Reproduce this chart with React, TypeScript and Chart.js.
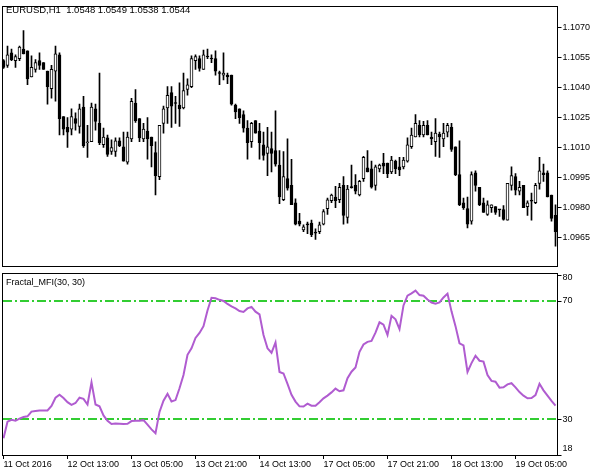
import React, { useEffect, useRef } from "react";
import { Chart, registerables } from "chart.js";

Chart.register(...registerables);

const FONT = "'Liberation Sans', Arial, sans-serif";

// ---- data ----
const tradingDays = ["11 Oct", "12 Oct", "13 Oct", "14 Oct", "17 Oct", "18 Oct", "19 Oct"];
const firstHour = 21;
const lastHour = 15;

const xTickIndex = [0, 16, 32, 48, 64, 80, 96, 112, 128];
const xTickText = [
  "11 Oct 2016", "12 Oct 13:00", "13 Oct 05:00", "13 Oct 21:00", "14 Oct 13:00",
  "17 Oct 05:00", "17 Oct 21:00", "18 Oct 13:00", "19 Oct 05:00",
];

const priceTicks = [1.0965, 1.098, 1.0995, 1.101, 1.1025, 1.104, 1.1055, 1.107];
const priceMin = 1.095069;
const priceMax = 1.108067;

const mfiTicks = [18, 30, 70, 80];
const mfiLevels = [30, 70];
const mfiMin = 17.93;
const mfiMax = 79.47;

const headerText = "EURUSD,H1  1.0548 1.0549 1.0538 1.0544";
const indicatorName = "Fractal_MFI(30, 30)";

const open = [
  1.10535, 1.10511, 1.10574, 1.10535, 1.10545, 1.10593, 1.10584, 1.10453, 1.10491, 1.10535,
  1.10525, 1.10482, 1.10394, 1.10482, 1.10564, 1.10254, 1.10200, 1.10191, 1.10244, 1.10205,
  1.10302, 1.10123, 1.10128, 1.10293, 1.10220, 1.10113, 1.10147, 1.10079, 1.10079, 1.10133,
  1.10103, 1.10026, 1.10142, 1.10322, 1.10244, 1.10142, 1.10181, 1.10152, 1.10074, 1.09953,
  1.10220, 1.10297, 1.10375, 1.10322, 1.10312, 1.10297, 1.10390, 1.10404, 1.10535, 1.10545,
  1.10491, 1.10555, 1.10545, 1.10545, 1.10472, 1.10462, 1.10462, 1.10462, 1.10312, 1.10293,
  1.10264, 1.10196, 1.10128, 1.10234, 1.10181, 1.10113, 1.10070, 1.10094, 1.10084, 1.10011,
  1.09837, 1.09943, 1.09909, 1.09822, 1.09730, 1.09686, 1.09715, 1.09720, 1.09672, 1.09677,
  1.09715, 1.09793, 1.09832, 1.09851, 1.09837, 1.09909, 1.09749, 1.09900, 1.09909, 1.09861,
  1.09943, 1.09997, 1.09992, 1.09909, 1.09992, 1.10021, 1.10021, 1.09977, 1.10031, 1.10002,
  1.10002, 1.10031, 1.10103, 1.10152, 1.10210, 1.10162, 1.10210, 1.10152, 1.10128, 1.10167,
  1.10142, 1.10176, 1.10200, 1.10103, 1.09963, 1.09822, 1.09793, 1.09730, 1.09972, 1.09900,
  1.09822, 1.09764, 1.09798, 1.09803, 1.09788, 1.09788, 1.09735, 1.09909, 1.09953, 1.09880,
  1.09909, 1.09803, 1.09832, 1.09822, 1.09919, 1.09972, 1.09972, 1.09861, 1.09759,
];

const high = [
  1.10540, 1.10608, 1.10593, 1.10564, 1.10608, 1.10685, 1.10584, 1.10559, 1.10540, 1.10574,
  1.10525, 1.10482, 1.10511, 1.10608, 1.10574, 1.10254, 1.10249, 1.10293, 1.10273, 1.10317,
  1.10356, 1.10210, 1.10322, 1.10317, 1.10472, 1.10196, 1.10162, 1.10137, 1.10147, 1.10147,
  1.10176, 1.10176, 1.10346, 1.10390, 1.10244, 1.10220, 1.10249, 1.10152, 1.10128, 1.10210,
  1.10307, 1.10404, 1.10404, 1.10356, 1.10424, 1.10472, 1.10443, 1.10559, 1.10564, 1.10559,
  1.10588, 1.10593, 1.10564, 1.10584, 1.10482, 1.10574, 1.10472, 1.10462, 1.10317, 1.10293,
  1.10283, 1.10234, 1.10225, 1.10234, 1.10220, 1.10176, 1.10200, 1.10176, 1.10283, 1.10084,
  1.10079, 1.10142, 1.10040, 1.09842, 1.09769, 1.09711, 1.09725, 1.09735, 1.09691, 1.09725,
  1.09788, 1.09846, 1.09866, 1.09905, 1.09919, 1.09953, 1.09909, 1.10011, 1.09963, 1.09934,
  1.10055, 1.10084, 1.10031, 1.10011, 1.10016, 1.10070, 1.10021, 1.10055, 1.10036, 1.10050,
  1.10050, 1.10147, 1.10196, 1.10264, 1.10234, 1.10230, 1.10234, 1.10176, 1.10244, 1.10176,
  1.10220, 1.10220, 1.10220, 1.10103, 1.10133, 1.09846, 1.09851, 1.09977, 1.09982, 1.09900,
  1.09846, 1.09832, 1.09812, 1.09803, 1.09788, 1.09808, 1.09919, 1.10002, 1.09968, 1.09929,
  1.09909, 1.09832, 1.09870, 1.09919, 1.10050, 1.10016, 1.09982, 1.09861, 1.09812,
];

const low = [
  1.10496, 1.10501, 1.10535, 1.10501, 1.10535, 1.10569, 1.10414, 1.10453, 1.10477, 1.10491,
  1.10491, 1.10317, 1.10346, 1.10331, 1.10162, 1.10162, 1.10099, 1.10162, 1.10186, 1.10171,
  1.10099, 1.10050, 1.10128, 1.10186, 1.10113, 1.10099, 1.10055, 1.10065, 1.10055, 1.10103,
  1.10031, 1.10016, 1.10128, 1.10225, 1.10128, 1.10128, 1.10040, 1.10002, 1.09861, 1.09938,
  1.10171, 1.10220, 1.10200, 1.10220, 1.10205, 1.10293, 1.10361, 1.10399, 1.10491, 1.10482,
  1.10491, 1.10545, 1.10525, 1.10462, 1.10414, 1.10438, 1.10419, 1.10312, 1.10244, 1.10220,
  1.10176, 1.10040, 1.10099, 1.10171, 1.10040, 1.10036, 1.09958, 1.09977, 1.10006, 1.09817,
  1.09832, 1.09885, 1.09812, 1.09711, 1.09706, 1.09677, 1.09667, 1.09652, 1.09638, 1.09667,
  1.09711, 1.09764, 1.09822, 1.09798, 1.09822, 1.09715, 1.09720, 1.09895, 1.09866, 1.09856,
  1.09929, 1.09977, 1.09895, 1.09885, 1.09977, 1.09968, 1.09948, 1.09968, 1.09968, 1.09958,
  1.09992, 1.10026, 1.10094, 1.10152, 1.10152, 1.10152, 1.10162, 1.10113, 1.10055, 1.10050,
  1.10103, 1.10152, 1.10079, 1.09958, 1.09808, 1.09788, 1.09696, 1.09715, 1.09880, 1.09808,
  1.09774, 1.09759, 1.09774, 1.09764, 1.09754, 1.09735, 1.09735, 1.09885, 1.09861, 1.09861,
  1.09798, 1.09759, 1.09735, 1.09817, 1.09890, 1.09929, 1.09851, 1.09730, 1.09604,
];

const close = [
  1.10501, 1.10564, 1.10540, 1.10555, 1.10603, 1.10569, 1.10443, 1.10501, 1.10525, 1.10511,
  1.10491, 1.10404, 1.10491, 1.10569, 1.10244, 1.10191, 1.10176, 1.10254, 1.10220, 1.10293,
  1.10108, 1.10125, 1.10302, 1.10230, 1.10123, 1.10152, 1.10065, 1.10099, 1.10133, 1.10108,
  1.10031, 1.10152, 1.10331, 1.10234, 1.10147, 1.10191, 1.10142, 1.10108, 1.09958, 1.10210,
  1.10293, 1.10361, 1.10307, 1.10320, 1.10293, 1.10385, 1.10414, 1.10545, 1.10555, 1.10496,
  1.10564, 1.10553, 1.10543, 1.10482, 1.10470, 1.10472, 1.10453, 1.10317, 1.10278, 1.10249,
  1.10196, 1.10123, 1.10220, 1.10171, 1.10123, 1.10060, 1.10103, 1.10070, 1.10016, 1.09851,
  1.09953, 1.09895, 1.09812, 1.09715, 1.09715, 1.09701, 1.09711, 1.09662, 1.09670, 1.09711,
  1.09778, 1.09837, 1.09861, 1.09832, 1.09900, 1.09759, 1.09890, 1.09898, 1.09880, 1.09929,
  1.10050, 1.09977, 1.09900, 1.10002, 1.10011, 1.10006, 1.09968, 1.10036, 1.09992, 1.09987,
  1.10036, 1.10113, 1.10162, 1.10220, 1.10162, 1.10210, 1.10162, 1.10142, 1.10171, 1.10152,
  1.10171, 1.10210, 1.10089, 1.09963, 1.09812, 1.09798, 1.09715, 1.09963, 1.09909, 1.09812,
  1.09774, 1.09812, 1.09812, 1.09774, 1.09786, 1.09739, 1.09919, 1.09958, 1.09885, 1.09900,
  1.09798, 1.09822, 1.09830, 1.09909, 1.09982, 1.09963, 1.09851, 1.09744, 1.09677,
];

const mfi = [
  23.6, 29.2, 29.8, 29.5, 30.2, 30.8, 31.0, 32.6, 32.8, 33.0,
  33.0, 33.0, 34.5, 37.3, 38.3, 37.2, 35.8, 34.9, 35.5, 37.3,
  36.9, 35.0, 42.5, 35.0, 34.4, 31.3, 29.5, 28.4, 28.6, 28.5,
  28.4, 28.5, 29.4, 29.5, 29.5, 29.7, 28.2, 26.6, 25.3, 32.5,
  36.3, 38.6, 36.0, 36.5, 40.5, 45.0, 51.8, 54.0, 57.5, 59.2,
  61.5, 66.8, 71.1, 70.9, 70.4, 70.0, 69.0, 68.2, 67.5, 66.6,
  66.3, 67.5, 68.0, 66.4, 65.5, 58.5, 54.0, 52.5, 56.0, 46.0,
  45.5, 42.0, 38.3, 36.0, 34.4, 34.3, 35.3, 34.6, 34.6, 35.8,
  37.1, 38.0, 39.1, 40.4, 39.5, 39.8, 43.9, 46.1, 47.5, 52.8,
  55.3, 56.2, 56.5, 59.3, 62.8, 62.0, 58.5, 65.0, 63.8, 60.5,
  68.5, 71.8, 72.6, 73.5, 72.0, 71.8, 70.5, 69.5, 69.1, 69.5,
  71.2, 72.5, 66.5, 61.5, 55.7, 55.0, 46.0, 49.0, 51.5, 49.8,
  49.5, 45.0, 43.0, 42.7, 40.7, 40.8, 41.8, 42.2, 40.8, 39.2,
  38.0, 37.1, 37.2, 38.2, 42.0, 39.8, 38.0, 36.2, 34.6,
];

// hourly category labels (one per bar)
const categories: string[] = [];
tradingDays.forEach((d, di) => {
  const h0 = di === 0 ? firstHour : 0;
  const h1 = di === tradingDays.length - 1 ? lastHour : 23;
  for (let h = h0; h <= h1; h++) categories.push(d + " " + String(h).padStart(2, "0") + ":00");
});

// ---- layout constants ----
const W = 604;
const TOP_H = 272;
const BOT_TOP = 272;
const BOT_H = 203;
const AREA_LEFT = 1.5;
const AXIS_W = 46.5;
const LEVEL_COLOR = "rgb(50, 205, 50)";
const MFI_COLOR = "#B05CD0";

const framePlugin = {
  id: "paneFrame",
  afterDraw(chart: any) {
    const { ctx, chartArea: a } = chart;
    ctx.save();
    ctx.strokeStyle = "#000";
    ctx.lineWidth = 1;
    const top = Math.round(a.top) + 0.5;
    const bottom = Math.round(a.bottom) + 0.5;
    ctx.strokeRect(2.5, top, 557 - 2, bottom - top);
    ctx.restore();
  },
};

const headerPlugin = {
  id: "header",
  afterDraw(chart: any) {
    const { ctx } = chart;
    ctx.save();
    ctx.fillStyle = "#000";
    ctx.font = "9.5px " + FONT;
    ctx.textBaseline = "middle";
    ctx.textAlign = "left";
    ctx.fillText(headerText, 6, 10);
    ctx.restore();
  },
};

const indicatorPlugin = {
  id: "indicatorExtras",
  beforeDatasetsDraw(chart: any) {
    const { ctx, chartArea: a, scales } = chart;
    const ys = scales.y;
    ctx.save();
    ctx.strokeStyle = LEVEL_COLOR;
    ctx.lineWidth = 2;
    ctx.setLineDash([9, 3, 2, 3]);
    mfiLevels.forEach((v) => {
      const y = Math.round(ys.getPixelForValue(v));
      ctx.beginPath();
      ctx.moveTo(a.left + 1.5, y);
      ctx.lineTo(a.right, y);
      ctx.stroke();
    });
    ctx.restore();
  },
  afterDraw(chart: any) {
    const { ctx, chartArea: a, scales } = chart;
    const ys = scales.y;
    ctx.save();
    ctx.fillStyle = "#000";
    ctx.strokeStyle = "#000";
    ctx.lineWidth = 1;
    ctx.font = "9px " + FONT;
    ctx.textBaseline = "middle";
    ctx.textAlign = "left";
    ctx.fillText(indicatorName, 6, a.top + 10);
    mfiTicks.forEach((v) => {
      const p = ys.getPixelForValue(v);
      const ty = Math.round(Math.min(Math.max(p, a.top + 2), a.bottom)) + 0.5;
      ctx.beginPath();
      ctx.moveTo(a.right, ty);
      ctx.lineTo(a.right + 4, ty);
      ctx.stroke();
      const ly = Math.min(Math.max(p, a.top + 5), a.bottom - 6);
      ctx.fillText(String(v), a.right + 5, ly);
    });
    ctx.restore();
  },
};

export default function App() {
  const topRef = useRef<HTMLCanvasElement | null>(null);
  const botRef = useRef<HTMLCanvasElement | null>(null);

  useEffect(() => {
    const bodyColors = open.map((o, i) => (close[i] >= o ? "#ffffff" : "#000000"));

    const top = new Chart(topRef.current as HTMLCanvasElement, {
      type: "bar",
      data: {
        labels: categories,
        datasets: [
          {
            label: "wick",
            data: low.map((l, i) => [l, high[i]]) as any,
            backgroundColor: "#000000",
            borderWidth: 0,
            barThickness: 1,
            grouped: false,
            order: 1,
          } as any,
          {
            label: "body",
            data: open.map((o, i) => [o, close[i]]) as any,
            backgroundColor: bodyColors,
            borderColor: "#000000",
            borderWidth: 1,
            borderSkipped: false,
            barThickness: 3,
            minBarLength: 1,
            grouped: false,
            order: 0,
          } as any,
        ],
      },
      options: {
        animation: false,
        responsive: false,
        maintainAspectRatio: false,
        devicePixelRatio: 1,
        layout: { padding: { left: AREA_LEFT, top: 2, right: 0, bottom: 2 }, autoPadding: false } as any,
        plugins: { legend: { display: false }, tooltip: { enabled: false } },
        scales: {
          x: { type: "category", display: false, offset: true },
          y: {
            position: "right",
            min: priceMin,
            max: priceMax,
            afterBuildTicks: (s: any) => {
              s.ticks = priceTicks.map((v) => ({ value: v }));
            },
            afterFit: (s: any) => {
              s.width = AXIS_W;
            },
            ticks: {
              callback: (v: any) => Number(v).toFixed(4),
              font: { family: FONT, size: 9 },
              color: "#000",
              padding: 1,
            },
            grid: {
              drawOnChartArea: false,
              drawTicks: true,
              tickLength: 4,
              tickColor: "#000",
              color: "#000",
            },
            border: { display: false },
          } as any,
        },
      },
      plugins: [framePlugin, headerPlugin],
    });

    const bot = new Chart(botRef.current as HTMLCanvasElement, {
      type: "line",
      data: {
        labels: categories,
        datasets: [
          {
            label: indicatorName,
            data: mfi,
            borderColor: MFI_COLOR,
            borderWidth: 2,
            pointRadius: 0,
            tension: 0,
            fill: false,
          },
        ],
      },
      options: {
        animation: false,
        responsive: false,
        maintainAspectRatio: false,
        devicePixelRatio: 1,
        layout: { padding: { left: AREA_LEFT, top: 1, right: AXIS_W, bottom: 0 }, autoPadding: false } as any,
        plugins: { legend: { display: false }, tooltip: { enabled: false } },
        scales: {
          x: {
            type: "category",
            offset: true,
            afterBuildTicks: (s: any) => {
              s.ticks = xTickIndex.map((v) => ({ value: v }));
            },
            afterFit: (s: any) => {
              s.height = 20;
            },
            ticks: {
              autoSkip: false,
              maxRotation: 0,
              minRotation: 0,
              align: "start",
              padding: 0,
              font: { family: FONT, size: 9 },
              color: "#000",
              callback: (v: any) => {
                const k = xTickIndex.indexOf(Number(v));
                return k >= 0 ? xTickText[k] : "";
              },
            },
            grid: {
              drawOnChartArea: false,
              drawTicks: true,
              tickLength: 4,
              tickColor: "#000",
              color: "#000",
              offset: false,
            },
            border: { display: false },
          } as any,
          y: { display: false, min: mfiMin, max: mfiMax },
        },
      },
      plugins: [framePlugin, indicatorPlugin],
    });

    return () => {
      top.destroy();
      bot.destroy();
    };
  }, []);

  return (
    <div style={{ position: "absolute", left: 0, top: 0, width: W, height: 475, background: "#fff" }}>
      <canvas ref={topRef} width={W} height={TOP_H} style={{ position: "absolute", left: 0, top: 0, display: "block" }} />
      <canvas ref={botRef} width={W} height={BOT_H} style={{ position: "absolute", left: 0, top: BOT_TOP, display: "block" }} />
    </div>
  );
}
